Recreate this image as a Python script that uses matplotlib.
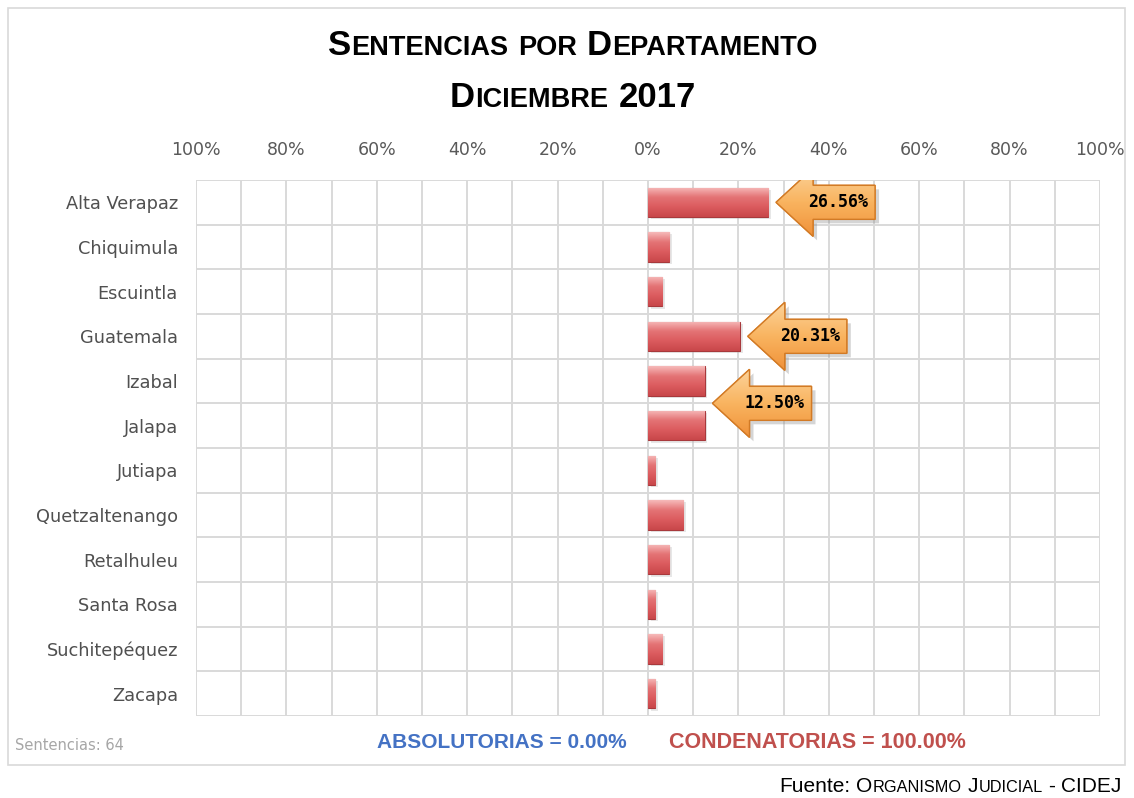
import numpy as np
import matplotlib
matplotlib.use("Agg")
import matplotlib.pyplot as plt
from matplotlib.patches import Polygon, Rectangle
from matplotlib.transforms import IdentityTransform
from matplotlib.colors import LinearSegmentedColormap

# ---------------- data ----------------
categories = ["Alta Verapaz", "Chiquimula", "Escuintla", "Guatemala", "Izabal",
              "Jalapa", "Jutiapa", "Quetzaltenango", "Retalhuleu", "Santa Rosa",
              "Suchitepéquez", "Zacapa"]
condenatorias = [26.56, 4.69, 3.13, 20.31, 12.50, 12.50, 1.56, 7.81, 4.69, 1.56, 3.13, 1.56]
absolutorias = [0, 0, 0, 0, 0, 0, 0, 0, 0, 0, 0, 0]
x_ticks = [-100, -80, -60, -40, -20, 0, 20, 40, 60, 80, 100]
x_tick_labels = ["100%", "80%", "60%", "40%", "20%", "0%", "20%", "40%", "60%", "80%", "100%"]
callout_labels = ["26.56%", "20.31%", "12.50%"]
callout_rows = [[0], [3], [4, 5]]
callout_values = [26.56, 20.31, 12.50]

FONT = ["Liberation Sans", "DejaVu Sans"]
TICKFONT = ["DejaVu Sans"]

W, H = 1134, 798
fig = plt.figure(figsize=(W / 100, H / 100), dpi=100)
fig.patch.set_facecolor("white")

# outer border
fig.add_artist(Rectangle((8 / W, 1 - 765 / H), 1117 / W, 757 / H, transform=fig.transFigure,
                         fill=False, edgecolor="#D9D9D9", linewidth=1.2))

ax = fig.add_axes([196 / W, 1 - 716 / H, 904 / W, 536 / H])
n = len(categories)
y = np.arange(n)
ax.set_xlim(-100, 100)
ax.set_ylim(n - 0.5, -0.5)

# grid
for gx in range(-100, 101, 10):
    ax.axvline(gx, color="#D9D9D9", lw=1.4, zorder=0)
for gy in np.arange(-0.5, n, 1.0):
    ax.axhline(gy, color="#D9D9D9", lw=1.4, zorder=0)
for s in ax.spines.values():
    s.set_visible(False)

ax.xaxis.tick_top()
ax.set_xticks(x_ticks)
ax.set_xticklabels(x_tick_labels, fontsize=12.5, color="#595959", family=TICKFONT)
ax.tick_params(axis="x", length=0, pad=15)
ax.set_yticks(y)
ax.set_yticklabels(categories, fontsize=12.8, color="#505050", family=TICKFONT)
ax.tick_params(axis="y", length=0, pad=13)

bh = 0.66
# shadow
ax.barh(y + 0.05, condenatorias, height=bh, left=0.6, color="#BBBBBB", alpha=0.35, zorder=1, linewidth=0)
bars = ax.barh(y, condenatorias, height=bh, color="#DC5E60", edgecolor="#A8393C", linewidth=0.8, zorder=2)
ax.barh(y, [-a for a in absolutorias], height=bh, color="#4F81BD", zorder=2)

cmap_bar = LinearSegmentedColormap.from_list("b", ["#F6B9B9", "#E47375", "#DB5B5E", "#C8474A"])
grad = np.linspace(0, 1, 64).reshape(-1, 1)
for b, yi, v in zip(bars, y, condenatorias):
    im = ax.imshow(grad, cmap=cmap_bar, aspect="auto", extent=(0, v, yi + bh / 2, yi - bh / 2),
                   zorder=2.5, interpolation="bilinear")
    im.set_clip_path(b)
ax.set_xlim(-100, 100)
ax.set_ylim(n - 0.5, -0.5)

# callout arrows
shape = np.array([[0, 0], [37, 34], [37, 17], [99, 17], [99, -17], [37, -17], [37, -34]])
cmap_arr = LinearSegmentedColormap.from_list("a", ["#FCD39A", "#F9B460", "#F0923A"])
grad_a = np.linspace(0, 1, 64).reshape(-1, 1)
for lab, rows, v in zip(callout_labels, callout_rows, callout_values):
    yc = np.mean([y[r] for r in rows])
    tx, ty = ax.transData.transform((v, yc))
    tx += 8
    sh = Polygon(shape + [tx + 4, ty - 4], closed=True, transform=IdentityTransform(),
                 facecolor="#888888", alpha=0.35, edgecolor="none", zorder=4)
    ax.add_artist(sh)
    poly = Polygon(shape + [tx, ty], closed=True, transform=IdentityTransform(),
                   facecolor="#F9B15C", edgecolor="#D9822B", linewidth=1.0, zorder=5)
    ax.add_artist(poly)
    x0d, y0d = ax.transData.inverted().transform((tx, ty - 34))
    x1d, y1d = ax.transData.inverted().transform((tx + 99, ty + 34))
    ima = ax.imshow(grad_a, cmap=cmap_arr, aspect="auto", extent=(x0d, x1d, y0d, y1d),
                    zorder=5.2, interpolation="bilinear")
    ima.set_clip_path(poly)
    edge = Polygon(shape + [tx, ty], closed=True, transform=IdentityTransform(),
                   facecolor="none", edgecolor="#D27A25", linewidth=1.0, zorder=5.5)
    ax.add_artist(edge)
    ax.text(tx + 62, ty, lab, transform=IdentityTransform(), ha="center", va="center",
            fontsize=12, weight="bold", family=["DejaVu Sans Mono"], color="black", zorder=6)
ax.set_xlim(-100, 100)
ax.set_ylim(n - 0.5, -0.5)

renderer = fig.canvas.get_renderer()


def small_caps(x, ybase, s, size, ratio=0.78, ha="center", caps_from=0, **kw):
    runs = []
    for i, ch in enumerate(s):
        if ch == " ":
            kind = "space"
        elif i >= caps_from and ch.islower():
            kind = "small"
        else:
            kind = "big"
        if runs and runs[-1][0] == kind:
            runs[-1][1] += ch
        else:
            runs.append([kind, ch])
    items = []
    for kind, txt in runs:
        if kind == "space":
            items.append((None, size * 0.27 * 100 / 72 * len(txt)))
            continue
        fs = size * ratio if kind == "small" else size
        t = fig.text(0, ybase, txt.upper() if kind == "small" else txt, fontsize=fs,
                     transform=IdentityTransform(), va="baseline", ha="left", **kw)
        w = t.get_window_extent(renderer).width
        items.append((t, w + size * 0.02))
    total = sum(w for _, w in items)
    if ha == "center":
        cx = x - total / 2
    elif ha == "right":
        cx = x - total
    else:
        cx = x
    for t, w in items:
        if t is not None:
            t.set_x(cx)
        cx += w


small_caps(573, H - 55, "Sentencias por Departamento", 25, weight="bold", family=FONT, color="black")
small_caps(573, H - 107, "Diciembre 2017", 25, weight="bold", family=FONT, color="black")
small_caps(1122, H - 792, "Fuente: Organismo Judicial - CIDEJ", 15, ha="right", caps_from=8,
           family=FONT, color="black")

fig.text(15 / W, 1 - 746 / H, "Sentencias: 64", fontsize=10.5, color="#A6A6A6", va="center",
         family=TICKFONT)
fig.text(502 / W, 1 - 742 / H, "ABSOLUTORIAS = 0.00%", fontsize=15, color="#4472C4", weight="bold",
         ha="center", va="center", family=FONT)
fig.text(817 / W, 1 - 742 / H, "CONDENATORIAS = 100.00%", fontsize=15.5, color="#C0504D", weight="bold",
         ha="center", va="center", family=FONT)

fig.savefig("out.png", dpi=100)
